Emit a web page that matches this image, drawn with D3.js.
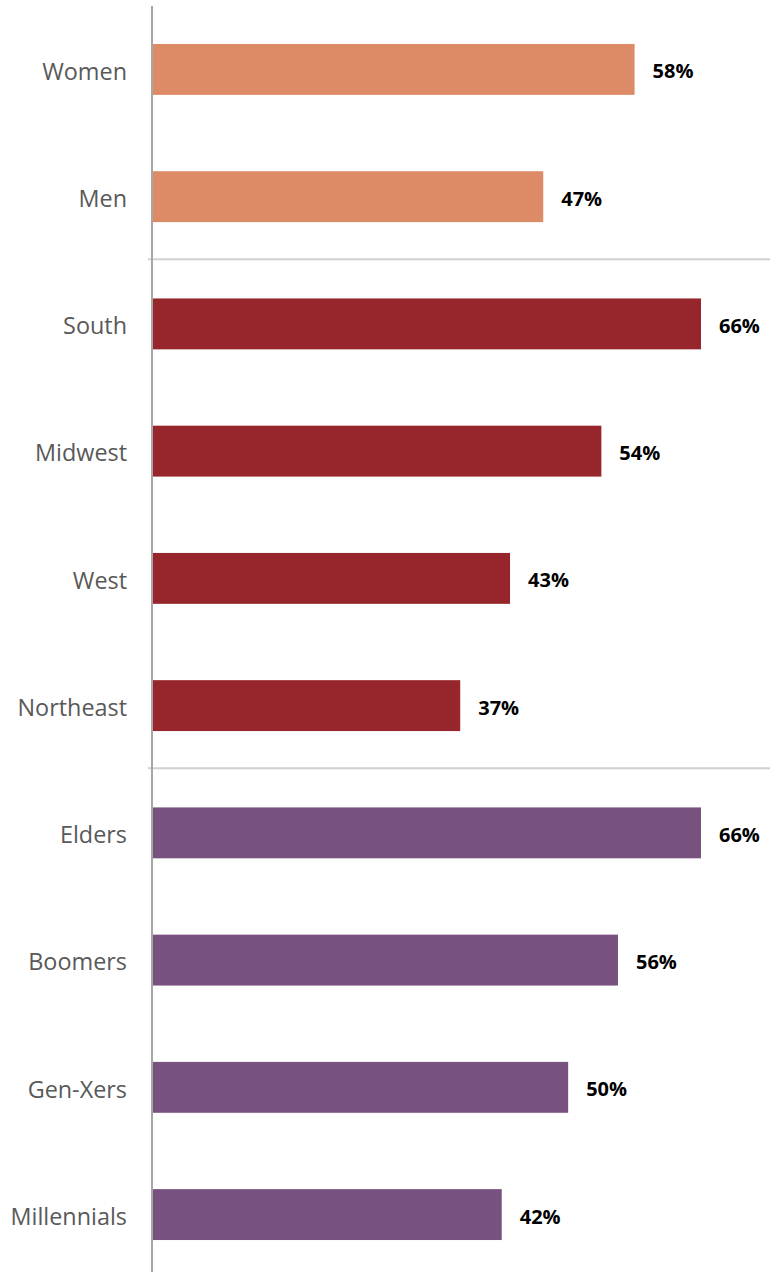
<!DOCTYPE html>
<html>
<head>
<meta charset="utf-8">
<script src="https://cdn.jsdelivr.net/npm/d3@7"></script>
<style>
  html, body { margin: 0; padding: 0; background: #fff; }
  svg { display: block; }
</style>
</head>
<body>
<svg id="chart" width="770" height="1272"></svg>
<script>
// Share of respondents by group
const categories = ["Women", "Men", "South", "Midwest", "West", "Northeast", "Elders", "Boomers", "Gen-Xers", "Millennials"];
const values = [58, 47, 66, 54, 43, 37, 66, 56, 50, 42];
const groups = ["gender", "gender", "region", "region", "region", "region", "generation", "generation", "generation", "generation"];
const groupColors = { gender: "#DD8A67", region: "#96262B", generation: "#78527E" };

const width = 770, height = 1272;
const svg = d3.select("#chart");

const x = d3.scaleLinear().domain([0, 66]).range([153, 701]);
const y = d3.scaleBand().domain(categories).range([5.8, 1278.2]).paddingInner(0.6).paddingOuter(0.3);

const data = categories.map((c, i) => ({ cat: c, value: values[i], group: groups[i] }));

// bars
svg.append("g").selectAll("rect").data(data).join("rect")
  .attr("x", x(0))
  .attr("y", d => y(d.cat))
  .attr("width", d => x(d.value) - x(0))
  .attr("height", y.bandwidth())
  .attr("fill", d => groupColors[d.group]);

// separators between groups
const seps = [];
for (let i = 1; i < data.length; i++) {
  if (data[i].group !== data[i - 1].group) {
    seps.push((y(categories[i - 1]) + y.bandwidth() + y(categories[i])) / 2 - 1);
  }
}
svg.append("g").selectAll("line").data(seps).join("line")
  .attr("x1", 148).attr("x2", width)
  .attr("y1", d => d).attr("y2", d => d)
  .attr("stroke", "#d0d0d0").attr("stroke-width", 2);

// category axis
svg.append("line")
  .attr("x1", 152).attr("x2", 152)
  .attr("y1", 6).attr("y2", height)
  .attr("stroke", "#a6a6a6").attr("stroke-width", 2);

svg.append("g").selectAll("text").data(data).join("text")
  .attr("x", 127)
  .attr("y", d => y(d.cat) + y.bandwidth() / 2 + 2)
  .attr("dy", "0.35em")
  .attr("text-anchor", "end")
  .attr("font-family", "'Open Sans', sans-serif")
  .attr("font-size", 23.4)
  .attr("fill", "#595959")
  .text(d => d.cat);

// value labels
svg.append("g").selectAll("text").data(data).join("text")
  .attr("x", d => x(d.value) + 18)
  .attr("y", d => y(d.cat) + y.bandwidth() / 2 + 2)
  .attr("dy", "0.35em")
  .attr("font-family", "'Open Sans', sans-serif")
  .attr("font-weight", "bold")
  .attr("font-size", 20)
  .attr("fill", "#000")
  .text(d => d.value + "%");
</script>
</body>
</html>
